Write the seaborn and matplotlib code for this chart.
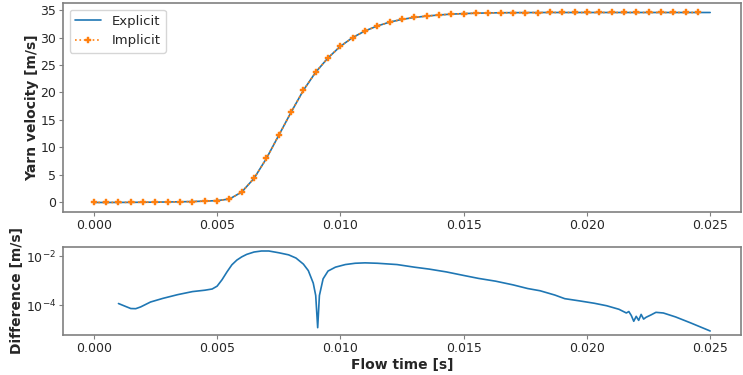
import numpy as np
import pandas as pd
import matplotlib
matplotlib.use('Agg')
import matplotlib.pyplot as plt
import seaborn as sns

# velocity, sampled every 0.5 ms
t_vel = [0.0000, 0.0005, 0.0010, 0.0015, 0.0020, 0.0025, 0.0030, 0.0035, 0.0040, 0.0045,
         0.0050, 0.0055, 0.0060, 0.0065, 0.0070, 0.0075, 0.0080, 0.0085, 0.0090, 0.0095,
         0.0100, 0.0105, 0.0110, 0.0115, 0.0120, 0.0125, 0.0130, 0.0135, 0.0140, 0.0145,
         0.0150, 0.0155, 0.0160, 0.0165, 0.0170, 0.0175, 0.0180, 0.0185, 0.0190, 0.0195,
         0.0200, 0.0205, 0.0210, 0.0215, 0.0220, 0.0225, 0.0230, 0.0235, 0.0240, 0.0245,
         0.0250]
v_explicit = [0.00, 0.00, 0.01, 0.02, 0.04, 0.06, 0.09, 0.12, 0.17, 0.24,
              0.34, 0.62, 1.90, 4.40, 8.00, 12.20, 16.40, 20.40, 23.70, 26.30,
              28.40, 30.00, 31.20, 32.10, 32.80, 33.30, 33.65, 33.90, 34.10, 34.25,
              34.35, 34.42, 34.47, 34.50, 34.52, 34.53, 34.54, 34.55, 34.55, 34.55,
              34.55, 34.55, 34.55, 34.55, 34.55, 34.55, 34.55, 34.55, 34.55, 34.55,
              34.55]
# implicit run stops one step earlier
t_imp = t_vel[:-1]
v_implicit = v_explicit[:-1]

# absolute difference between the two runs
t_diff = [0.00100, 0.00130, 0.00150, 0.00170, 0.00190, 0.00230, 0.00280, 0.00340, 0.00400, 0.00450,
          0.00480, 0.00500, 0.00520, 0.00540, 0.00560, 0.00580, 0.00600, 0.00620, 0.00650, 0.00680,
          0.00710, 0.00750, 0.00790, 0.00820, 0.00850, 0.00870, 0.00890, 0.00900, 0.00908, 0.00915,
          0.00930, 0.00950, 0.00980, 0.01020, 0.01060, 0.01100, 0.01150, 0.01230, 0.01300, 0.01360,
          0.01430, 0.01500, 0.01560, 0.01630, 0.01700, 0.01760, 0.01810, 0.01870, 0.01910, 0.01970,
          0.02030, 0.02080, 0.02130, 0.02160, 0.02170, 0.02180, 0.02190, 0.02200, 0.02210, 0.02220,
          0.02230, 0.02240, 0.02260, 0.02280, 0.02310, 0.02360, 0.02420, 0.02500]
diff = [1.17e-4, 8.8e-5, 7.3e-5, 7.2e-5, 8.5e-5, 1.35e-4, 1.9e-4, 2.7e-4, 3.6e-4, 4.1e-4,
        4.6e-4, 6.0e-4, 1.1e-3, 2.3e-3, 4.5e-3, 7.0e-3, 9.5e-3, 1.2e-2, 1.5e-2, 1.65e-2,
        1.65e-2, 1.4e-2, 1.15e-2, 8.5e-3, 4.8e-3, 2.6e-3, 8.0e-4, 2.5e-4, 1.2e-5, 2.5e-4,
        1.2e-3, 2.5e-3, 3.6e-3, 4.6e-3, 5.2e-3, 5.4e-3, 5.2e-3, 4.6e-3, 3.6e-3, 3.0e-3,
        2.3e-3, 1.65e-3, 1.25e-3, 9.6e-4, 6.8e-4, 4.8e-4, 3.9e-4, 2.6e-4, 1.85e-4, 1.5e-4,
        1.2e-4, 9.5e-5, 6.8e-5, 4.8e-5, 5.5e-5, 3.8e-5, 2.2e-5, 3.5e-5, 2.4e-5, 4.2e-5,
        2.7e-5, 3.2e-5, 4.0e-5, 5.1e-5, 4.8e-5, 3.3e-5, 1.9e-5, 8.8e-6]

sns.set_style('white')
plt.rcParams['font.family'] = ['DejaVu Sans']

fig, (ax1, ax2) = plt.subplots(2, 1, sharex=True, figsize=(7.43, 3.75), dpi=100,
                               gridspec_kw={'height_ratios': [209, 88]})
fig.subplots_adjust(left=0.0848, right=0.9973, top=0.992, bottom=0.1067, hspace=0.236)

#top panel: velocity
sns.lineplot(x=t_vel, y=v_explicit, ax=ax1, color='tab:blue', linewidth=1.2, label='Explicit')
sns.lineplot(x=t_imp, y=v_implicit, ax=ax1, color='tab:orange', linestyle=':', linewidth=1.2,
             marker='P', markersize=5, markerfacecolor='tab:orange',
             markeredgecolor='tab:orange', markeredgewidth=0.3, label='Implicit')
ax1.set_ylabel('Yarn velocity [m/s]', fontsize=10, fontweight='bold', labelpad=1)
ax1.set_yticks([0, 5, 10, 15, 20, 25, 30, 35])
ax1.legend(loc='upper left', fontsize=9.5, frameon=True, handlelength=2.0)
ax1.tick_params(labelbottom=True)

#bottom panel: difference
sns.lineplot(x=t_diff, y=diff, ax=ax2, color='tab:blue', linewidth=1.2)
ax2.set_yscale('log')
ax2.set_ylabel('Difference [m/s]', fontsize=10, fontweight='bold', labelpad=1)
ax2.set_xlabel('Flow time [s]', fontsize=10, fontweight='bold', labelpad=2)
ax2.set_xticks([0.000, 0.005, 0.010, 0.015, 0.020, 0.025])

for ax in (ax1, ax2):
    ax.margins(x=0.05)
    for s in ax.spines.values():
        s.set_color('#808080')
        s.set_linewidth(1.2)
    ax.tick_params(which='both', direction='out', color='#808080', labelsize=9,
                   labelcolor='#262626', length=3, width=0.8, pad=2, left=True, bottom=True)
    ax.tick_params(which='minor', length=2, width=0.6)
ax1.xaxis.set_major_formatter(matplotlib.ticker.FormatStrFormatter('%.3f'))
ax2.xaxis.set_major_formatter(matplotlib.ticker.FormatStrFormatter('%.3f'))

plt.savefig('out.png', dpi=100)
